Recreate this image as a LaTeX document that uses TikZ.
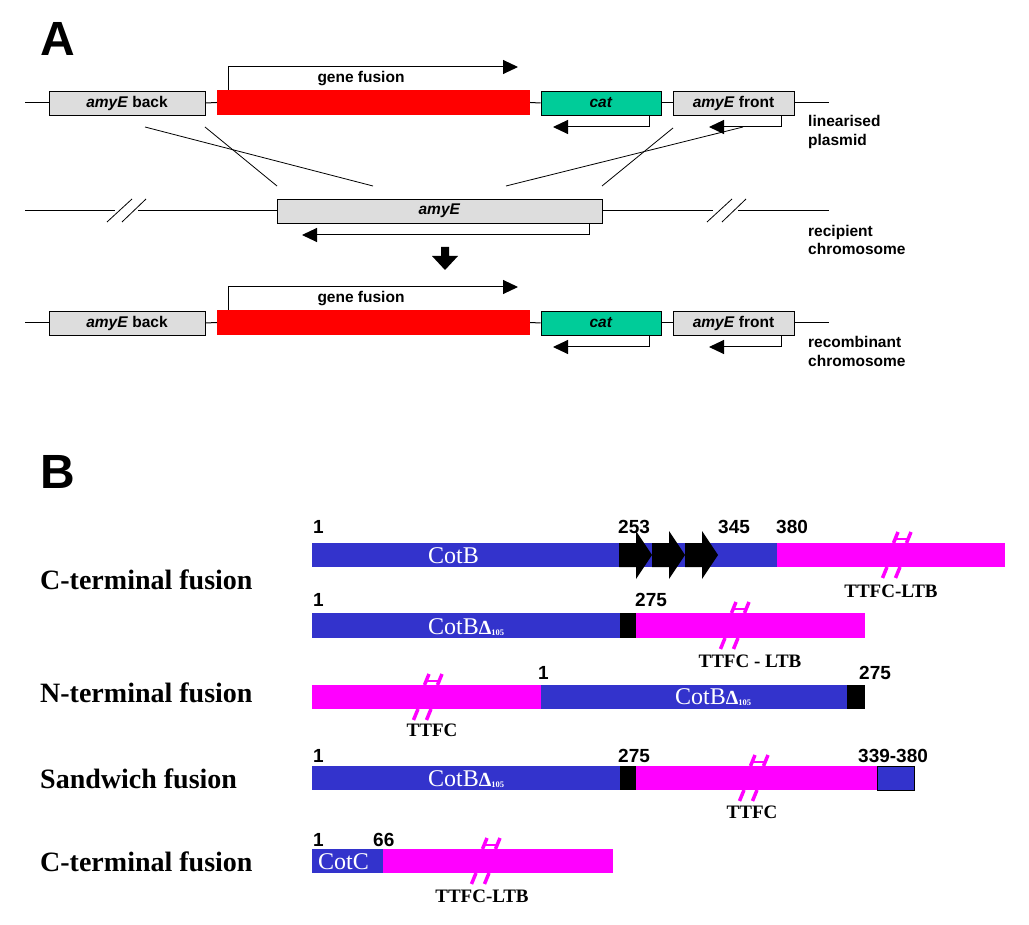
\documentclass[tikz,border=0pt]{standalone}
\usepackage{fontspec}
\setmainfont{Liberation Serif}
\newfontfamily\arialf{Liberation Sans}
\usetikzlibrary{arrows.meta}
\definecolor{cblue}{RGB}{51,51,204}
\definecolor{cmag}{RGB}{255,0,255}
\definecolor{cred}{RGB}{255,0,0}
\definecolor{cgreen}{RGB}{0,204,153}
\definecolor{cgray}{RGB}{221,221,221}
\newcommand{\setA}{\arialf\bfseries\fontsize{15.5}{18}\selectfont}
\newcommand{\setNum}{\arialf\bfseries\fontsize{19}{19}\selectfont}
\newcommand{\setTT}{\bfseries\fontsize{19}{19}\selectfont}
\newcommand{\setRow}{\bfseries\fontsize{28}{28}\selectfont}
\newcommand{\setBar}{\fontsize{24}{24}\selectfont}
\newcommand{\setBig}{\arialf\bfseries\fontsize{48}{48}\selectfont}
\newcommand{\cotbd}{CotB{\bfseries\fontsize{20}{20}\selectfont Δ}\raisebox{-1.5pt}{\bfseries\fontsize{8.5}{8.5}\selectfont 105}}
\newcommand{\brkmark}[3]{%
  \draw[brkl] ({#1-6.5-2},#2) -- ({#1-6.5+2.5},{#2-11});
  \draw[brkl] ({#1+6.5-2},#2) -- ({#1+6.5+2.5},{#2-11});
  \draw[cmag,line width=1.5pt] ({#1-6.5},{#2-4}) -- ({#1+6.5},{#2-4});
  \draw[brkl] ({#1-11-6.5-2},{#3+11}) -- ({#1-11-6.5+2.5},#3);
  \draw[brkl] ({#1-11+6.5-2},{#3+11}) -- ({#1-11+6.5+2.5},#3);
}
\tikzset{
  gbox/.style={draw=black, line width=0.8pt, fill=cgray, minimum height=24pt, inner sep=0pt, font=\setA},
  redbox/.style={fill=cred, draw=none, inner sep=0pt},
  catbox/.style={draw=black, line width=0.8pt, fill=cgreen, minimum height=24pt, inner sep=0pt, font=\setA},
  arr/.style={-{Triangle[length=15pt,width=14pt]}, line width=1pt},
  conn/.style={line width=1pt},
  cross/.style={line width=0.8pt},
  lab/.style={font=\setA, anchor=base west, inner sep=0pt},
  num/.style={font=\setNum, anchor=base west, inner sep=0pt},
  ttl/.style={font=\setTT, anchor=base, inner sep=0pt},
  rowl/.style={font=\setRow, anchor=base west, inner sep=0pt},
  barl/.style={font=\setBar, text=white, anchor=base west, inner sep=0pt},
  brkl/.style={draw=cmag, line width=3.5pt},
}
\begin{document}
\begin{tikzpicture}[x=1pt,y=-1pt]
\useasboundingbox (0,0) rectangle (1029,925);
\fill[white] (0,0) rectangle (1029,925);
% ---------------- Panel A ----------------
\node[font=\setBig, anchor=base west, inner sep=0pt] (labA) at (40,56) {A};

\foreach \r/\dy in {1/0,3/220}{
  \begin{scope}[shift={(0,\dy)}]
    \coordinate (L\r) at (25,103);
    \coordinate (R\r) at (829,103);
    \node[gbox, minimum width=156pt] (back\r) at (127,103) {\textit{amyE} back};
    \node[redbox, minimum width=313pt, minimum height=25pt] (gf\r) at (373.5,102.5) {};
    \node[catbox, minimum width=120pt] (cat\r) at (601,103) {\textit{cat}};
    \node[gbox, minimum width=121pt] (front\r) at (733.5,103) {\textit{amyE} front};
    \draw[conn] (L\r) -- (back\r.west);
    \draw[conn] (back\r.east) -- (gf\r.west);
    \draw[conn] (gf\r.east) -- (cat\r.west);
    \draw[conn] (cat\r.east) -- (front\r.west);
    \draw[conn] (front\r.east) -- (R\r);
    \coordinate (gfe\r) at (518,67);
    \draw[arr] ([xshift=12pt]gf\r.north west) |- (gfe\r);
    \node[lab, anchor=center] (gft\r) at (361,79) {gene fusion};
    \coordinate (cate\r) at (553,127);
    \draw[arr] ([xshift=-12pt]cat\r.south east) |- (cate\r);
    \coordinate (fre\r) at (709,127);
    \draw[arr] ([xshift=-12.5pt]front\r.south east) |- (fre\r);
  \end{scope}
}
\node[lab] (t1a) at (808,127) {linearised};
\node[lab] (t1b) at (808,146) {plasmid};
\node[lab] (t2a) at (808,237) {recipient};
\node[lab] (t2b) at (808,255) {chromosome};
\node[lab] (t3a) at (808,348) {recombinant};
\node[lab] (t3b) at (808,367) {chromosome};

% crossing lines
\coordinate (c1a) at (145,127); \coordinate (c1b) at (373,186);
\coordinate (c2a) at (205,127); \coordinate (c2b) at (277,186);
\coordinate (c3a) at (743,127); \coordinate (c3b) at (506,186);
\coordinate (c4a) at (673,128); \coordinate (c4b) at (602,186);
\draw[cross] (c1a) -- (c1b);
\draw[cross] (c2a) -- (c2b);
\draw[cross] (c3a) -- (c3b);
\draw[cross] (c4a) -- (c4b);

% recipient chromosome
\coordinate (L2) at (25,211);
\coordinate (R2) at (829,211);
\node[gbox, minimum width=325pt] (amy) at (439.5,211) {\textit{amyE}};
\coordinate (b1a) at (115,211); \coordinate (b1b) at (138,211);
\coordinate (b2a) at (713,211); \coordinate (b2b) at (738,211);
\draw[conn] (L2) -- (b1a);
\draw[conn] (b1b) -- (amy.west);
\draw[conn] (amy.east) -- (b2a);
\draw[conn] (b2b) -- (R2);
\draw[cross] (107,222) -- (132,199);
\draw[cross] (122,222) -- (146,199);
\draw[cross] (707,222) -- (732,199);
\draw[cross] (722,222) -- (746,199);
\coordinate (amye) at (302,235);
\draw[arr] ([xshift=-13pt]amy.south east) |- (amye);

% big down arrow
\fill (441,247) -- (449,247) -- (449,256) -- (458,256) -- (445,270) -- (432,256) -- (441,256) -- cycle;

% ---------------- Panel B ----------------
\node[font=\setBig, anchor=base west, inner sep=0pt] (labB) at (40,489) {B};

\node[rowl] (r1) at (40,589) {C-terminal fusion};
\node[rowl] (r2) at (40,702) {N-terminal fusion};
\node[rowl] (r3) at (40,788) {Sandwich fusion};
\node[rowl] (r4) at (40,871) {C-terminal fusion};

% row 1
\fill[cblue] (312,543) rectangle (777,567);
\fill[cmag] (777,543) rectangle (1005,567);
\foreach \x in {619,652,685}{
  \fill (\x,543) -- ++(17,0) -- ++(0,-12) -- ++(16,24) -- ++(-16,24) -- ++(0,-12) -- ++(-17,0) -- cycle;
}
\brkmark{902}{543}{567}
\node[barl] (cb1) at (428,563) {CotB};
\node[num] at (313,533) {1};
\node[num] at (618,533) {253};
\node[num] at (718,533) {345};
\node[num] at (776,533) {380};
\node[ttl] at (891,597) {TTFC-LTB};

% row 2
\fill[cblue] (312,613) rectangle (620,638);
\fill[black] (620,613) rectangle (636,638);
\fill[cmag] (636,613) rectangle (865,638);
\brkmark{740}{613}{638}
\node[barl] (cb2) at (428,634) {\cotbd};
\node[num] at (313,606) {1};
\node[num] at (635,606) {275};
\node[ttl] at (750,667) {TTFC - LTB};

% row 3
\fill[cmag] (312,685) rectangle (541,709);
\fill[cblue] (541,685) rectangle (847,709);
\fill[black] (847,685) rectangle (865,709);
\brkmark{433}{685}{709}
\node[barl] (cb3) at (675,704) {\cotbd};
\node[num] at (538,679) {1};
\node[num] at (859,679) {275};
\node[ttl] at (432,736) {TTFC};

% row 4
\fill[cblue] (312,766) rectangle (620,790);
\fill[black] (620,766) rectangle (636,790);
\fill[cmag] (636,766) rectangle (877,790);
\filldraw[fill=cblue, draw=black, line width=0.8pt] (877,766) rectangle (914,790);
\brkmark{759}{766}{790}
\node[barl] (cb4) at (428,786) {\cotbd};
\node[num] at (313,762) {1};
\node[num] at (618,762) {275};
\node[num] at (858,762) {339-380};
\node[ttl] at (752,818) {TTFC};

% row 5
\fill[cblue] (312,849) rectangle (383,873);
\fill[cmag] (383,849) rectangle (613,873);
\brkmark{491}{849}{873}
\node[barl] (cb5) at (318,869) {CotC};
\node[num] at (313,846) {1};
\node[num] at (373,846) {66};
\node[ttl] at (482,902) {TTFC-LTB};
\end{tikzpicture}
\end{document}
